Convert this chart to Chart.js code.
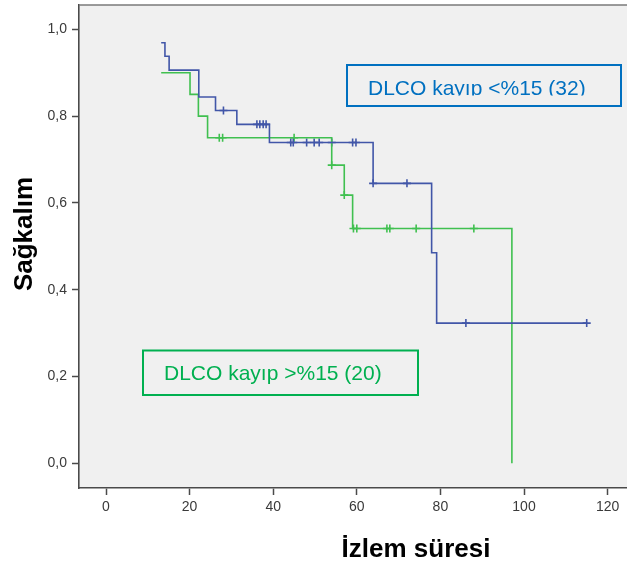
<!DOCTYPE html>
<html lang="tr">
<head>
<meta charset="utf-8">
<title>Sağkalım - İzlem süresi</title>
<script src="https://cdn.jsdelivr.net/npm/chart.js"></script>
<style>
    html, body { margin: 0; padding: 0; background: #fff; }
    #wrap { width: 627px; height: 566px; }
</style>
</head>
<body>
<div id="wrap"><canvas id="kmChart" width="627" height="566"></canvas></div>
<script>
// --- DATA ---
// DLCO kayıp <%15 (32): event steps
const blueTimes = [13.2, 14.1, 15.1, 22.2, 26.2, 31.3, 39.1, 63.9, 77.9, 79.1, 115.0];
const blueSurv  = [0.969, 0.938, 0.906, 0.844, 0.813, 0.781, 0.739, 0.645, 0.485, 0.323, 0.323];
// censored cases
const blueCensTimes = [28.1, 36.1, 36.8, 37.6, 38.3, 44.2, 44.8, 48.0, 49.8, 51.0, 54.0, 59.0, 59.8, 63.9, 72.0, 86.1, 115.0];
const blueCensSurv  = [0.813, 0.781, 0.781, 0.781, 0.781, 0.739, 0.739, 0.739, 0.739, 0.739, 0.739, 0.739, 0.739, 0.645, 0.645, 0.323, 0.323];

// DLCO kayıp >%15 (20)
const greenTimes = [13.2, 20.1, 22.1, 24.3, 54.0, 57.0, 59.0, 97.1];
const greenSurv  = [0.90, 0.85, 0.80, 0.75, 0.687, 0.618, 0.541, 0.0];
const greenCensTimes = [27.1, 27.9, 45.0, 54.0, 57.0, 59.2, 60.0, 67.2, 67.9, 74.2, 88.0];
const greenCensSurv  = [0.75, 0.75, 0.75, 0.687, 0.618, 0.541, 0.541, 0.541, 0.541, 0.541, 0.541];

const xTicks = [0, 20, 40, 60, 80, 100, 120];
const yTicks = [0, 0.2, 0.4, 0.6, 0.8, 1.0];

const blueLabel = 'DLCO kayıp <%15 (32)';
const greenLabel = 'DLCO kayıp >%15 (20)';
const xTitle = 'İzlem süresi';
const yTitle = 'Sağkalım';

// --- STYLE ---
const BLUE = '#4156a8';
const GREEN = '#40c050';
const AXIS = '#4a4a4a';
const FONT = '"Liberation Sans", Arial, sans-serif';

const toPoints = (xs, ys) => xs.map((x, i) => ({ x: x, y: ys[i] }));

// plot background, frame, titles and the two text boxes
const decor = {
    id: 'decor',
    beforeDraw(chart) {
        const { ctx, chartArea: a } = chart;
        ctx.save();
        ctx.fillStyle = '#f0f0f0';
        ctx.fillRect(a.left, a.top, a.right - a.left, a.bottom - a.top);
        ctx.restore();
    },
    afterDraw(chart) {
        const { ctx, chartArea: a } = chart;
        ctx.save();
        // top frame line
        ctx.strokeStyle = '#7a7a7a';
        ctx.lineWidth = 1.5;
        ctx.beginPath();
        ctx.moveTo(a.left, a.top);
        ctx.lineTo(a.right, a.top);
        ctx.stroke();

        // axis titles
        ctx.fillStyle = '#000';
        ctx.font = 'bold 26px ' + FONT;
        ctx.textAlign = 'center';
        ctx.textBaseline = 'alphabetic';
        ctx.fillText(xTitle, 416, 557);
        ctx.translate(32, 234);
        ctx.rotate(-Math.PI / 2);
        ctx.fillText(yTitle, 0, 0);
        ctx.restore();

        // text boxes
        ctx.save();
        ctx.lineWidth = 2;
        ctx.font = '21px ' + FONT;
        ctx.textAlign = 'left';
        ctx.textBaseline = 'alphabetic';

        ctx.strokeStyle = '#0070c0';
        ctx.strokeRect(347, 65, 274, 41);
        ctx.save();
        ctx.beginPath();
        ctx.rect(347, 65, 274, 30.5);
        ctx.clip();
        ctx.fillStyle = '#0070c0';
        ctx.fillText(blueLabel, 368, 94.5);
        ctx.restore();

        ctx.strokeStyle = '#00b050';
        ctx.strokeRect(143, 350.5, 275, 44.5);
        ctx.fillStyle = '#00b050';
        ctx.fillText(greenLabel, 164, 380);
        ctx.restore();
    }
};

const ctx = document.getElementById('kmChart').getContext('2d');
const chart = new Chart(ctx, {
    type: 'line',
    data: {
        datasets: [
            { data: toPoints(blueTimes, blueSurv), borderColor: BLUE, borderWidth: 1.6, stepped: true, pointRadius: 0, fill: false },
            { data: toPoints(greenTimes, greenSurv), borderColor: GREEN, borderWidth: 1.6, stepped: true, pointRadius: 0, fill: false },
            { data: toPoints(blueCensTimes, blueCensSurv), showLine: false, pointStyle: 'cross', pointRadius: 4, borderColor: BLUE, borderWidth: 1.6 },
            { data: toPoints(greenCensTimes, greenCensSurv), showLine: false, pointStyle: 'cross', pointRadius: 4, borderColor: GREEN, borderWidth: 1.6 }
        ]
    },
    options: {
        responsive: false,
        animation: false,
        layout: { autoPadding: false, padding: { top: 5, right: 0, left: 0, bottom: 0 } },
        plugins: { legend: { display: false }, tooltip: { enabled: false } },
        scales: {
            x: {
                type: 'linear',
                min: -6.46,
                max: 124.64,
                afterBuildTicks: s => { s.ticks = xTicks.map(v => ({ value: v })); },
                afterFit: s => { s.height = 78; s.paddingLeft = 0; s.paddingRight = 0; },
                grid: { drawOnChartArea: false, drawTicks: true, tickLength: 7, tickWidth: 1.5, color: AXIS },
                border: { display: true, color: AXIS, width: 1.6 },
                ticks: { color: '#3a3a3a', font: { family: FONT, size: 14 }, padding: 4, maxRotation: 0 }
            },
            y: {
                type: 'linear',
                min: -0.057,
                max: 1.056,
                afterBuildTicks: s => { s.ticks = yTicks.map(v => ({ value: v })); },
                afterFit: s => { s.width = 79; s.paddingTop = 0; s.paddingBottom = 0; },
                grid: { drawOnChartArea: false, drawTicks: true, tickLength: 7, tickWidth: 1.5, color: AXIS },
                border: { display: true, color: AXIS, width: 1.6 },
                ticks: {
                    color: '#3a3a3a',
                    font: { family: FONT, size: 14 },
                    padding: 5,
                    callback: v => v.toFixed(1).replace('.', ',')
                }
            }
        }
    },
    plugins: [decor]
});
</script>
</body>
</html>
